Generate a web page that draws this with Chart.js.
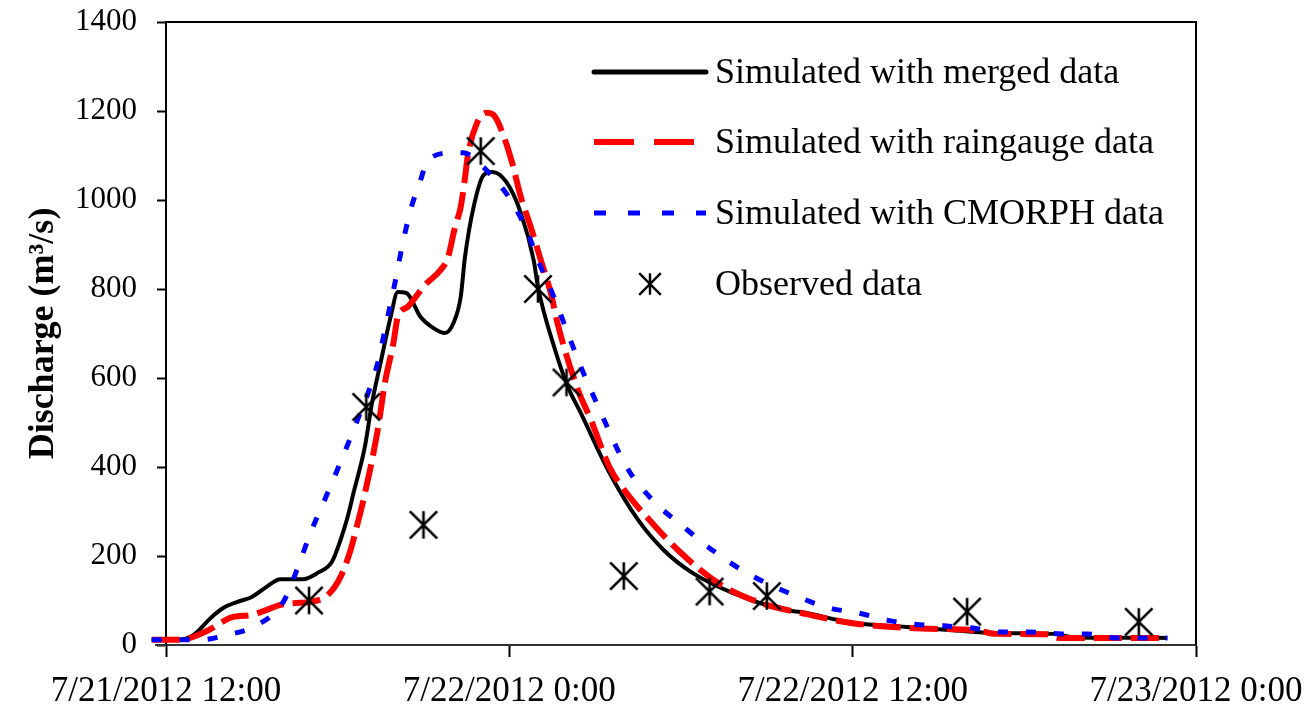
<!DOCTYPE html>
<html>
<head>
<meta charset="utf-8">
<script src="https://cdn.jsdelivr.net/npm/chart.js@4"></script>
<style>
  html, body { margin: 0; padding: 0; background: #fff; }
  #wrap { width: 1304px; height: 715px; position: relative; }
</style>
</head>
<body>
<div id="wrap"><canvas id="dischargeChart"></canvas></div>
<script>
// hours after 7/21/2012 12:00
const xTicks = [0, 12, 24, 36];
const xTickLabels = ['7/21/2012 12:00', '7/22/2012 0:00', '7/22/2012 12:00', '7/23/2012 0:00'];

const mergedT = [-0.5, 0.5, 0.95, 1.6, 2.0, 2.5, 3.0, 3.5, 4.0, 4.8, 5.3, 5.8, 6.1, 6.35, 6.55, 6.95, 7.2, 7.5, 7.85, 8.1, 8.4, 8.9, 9.35, 9.75, 10.05, 10.3, 10.45, 10.75, 11.1, 11.4, 11.9, 12.4, 12.85, 13.0, 13.6, 14.05, 14.5, 15.5, 16.5, 17.4, 18.4, 19.8, 21.6, 22.2, 24, 26, 27.5, 29, 31, 31.8, 35];
const mergedQ = [12, 12, 22, 63, 83, 97, 108, 130, 148, 148, 162, 187, 236, 288, 341, 445, 544, 634, 737, 793, 791, 737, 712, 701, 724, 782, 872, 984, 1056, 1063, 1040, 971, 865, 805, 663, 580, 521, 387, 281, 213, 162, 117, 79, 74, 50, 40, 33, 27, 25, 17, 16];

const rainT = [-0.5, 0.5, 1.35, 2.35, 2.95, 3.4, 4.0, 4.45, 5.05, 5.65, 6.1, 6.45, 6.7, 6.9, 7.4, 7.65, 7.95, 8.1, 8.45, 9.05, 9.6, 9.85, 10.1, 10.3, 10.45, 10.55, 10.85, 11.2, 11.45, 11.85, 12.1, 12.4, 12.75, 13.1, 13.45, 13.7, 14.4, 14.85, 15.5, 16.2, 16.8, 17.9, 19.3, 20.8, 22.2, 24, 26, 28.4, 29, 30.8, 31.2, 35];
const rainQ = [12, 12, 29, 63, 67, 76, 90, 94, 97, 112, 153, 213, 274, 326, 483, 589, 679, 737, 760, 809, 843, 870, 939, 984, 1050, 1100, 1170, 1196, 1191, 1135, 1083, 1007, 939, 865, 791, 719, 573, 506, 400, 333, 288, 213, 139, 94, 72, 49, 38, 32, 25, 24, 16, 16];

const cmorphT = [-0.5, 1.2, 2.1, 3.2, 4.1, 4.6, 5.05, 5.5, 6.55, 7.4, 7.65, 8.0, 8.25, 8.55, 8.9, 9.15, 10.05, 10.4, 11.1, 11.2, 12.05, 12.65, 13.0, 13.5, 14.0, 14.5, 15.05, 16.1, 17.0, 18.1, 19.1, 20.3, 22.1, 23.2, 24.2, 25.2, 26.1, 27.2, 28.2, 29.2, 30.2, 31.3, 32.2, 33.2, 35];
const cmorphQ = [12, 12, 22, 45, 97, 173, 252, 319, 483, 634, 708, 813, 895, 978, 1045, 1090, 1106, 1106, 1074, 1067, 1000, 925, 865, 791, 708, 625, 544, 400, 326, 265, 213, 162, 108, 83, 72, 56, 47, 43, 38, 29, 29, 25, 25, 16, 16];

const observedT = [5, 7, 9, 11, 13, 14, 16, 19, 21, 28, 34];
const observedQ = [100, 535, 270, 1110, 800, 590, 155, 120, 110, 75, 52];

const serif = "'Liberation Serif', 'Times New Roman', serif";

function toPoints(ts, qs) {
    return ts.map((t, i) => ({ x: t, y: qs[i] }));
}

// six-armed asterisk like the Excel marker
function makeStar(size, lw) {
    const c = document.createElement('canvas');
    c.width = size;
    c.height = size;
    const g = c.getContext('2d');
    g.strokeStyle = '#000';
    g.lineWidth = lw;
    const m = lw / 2 + 1;
    g.beginPath();
    g.moveTo(size / 2, m);
    g.lineTo(size / 2, size - m);
    g.moveTo(m, m);
    g.lineTo(size - m, size - m);
    g.moveTo(size - m, m);
    g.lineTo(m, size - m);
    g.stroke();
    return c;
}

const starMarker = makeStar(32, 2.6);
const starLegend = makeStar(26, 2.4);

const frameAndLegend = {
    id: 'frameAndLegend',
    afterDraw(chart) {
        const { ctx, chartArea } = chart;
        ctx.save();
        // top and right frame
        ctx.strokeStyle = '#000';
        ctx.lineWidth = 2;
        ctx.beginPath();
        ctx.moveTo(chartArea.left, chartArea.top);
        ctx.lineTo(chartArea.right, chartArea.top);
        ctx.lineTo(chartArea.right, chartArea.bottom);
        ctx.stroke();
        // x axis runs a little past the y axis
        ctx.strokeStyle = '#333';
        ctx.beginPath();
        ctx.moveTo(chartArea.left - 11, chartArea.bottom);
        ctx.lineTo(chartArea.left, chartArea.bottom);
        ctx.stroke();

        // legend inside the plot
        const rows = [72, 142, 213, 284];
        const x0 = 594, x1 = 706, tx = 715;
        ctx.font = '36px ' + serif;
        ctx.textBaseline = 'middle';
        ctx.textAlign = 'left';
        [0, 1, 2, 3].forEach((di, r) => {
            const ds = chart.data.datasets[di];
            const y = rows[r];
            if (ds.showLine === false) {
                ctx.drawImage(starLegend, 650 - starLegend.width / 2, y - starLegend.height / 2);
            } else {
                ctx.strokeStyle = ds.borderColor;
                ctx.lineWidth = di === 0 ? 5 : ds.borderWidth;
                ctx.lineCap = di === 0 ? 'round' : 'butt';
                ctx.setLineDash(ds.legendDash || []);
                ctx.beginPath();
                ctx.moveTo(x0, y);
                ctx.lineTo(x1, y);
                ctx.stroke();
                ctx.setLineDash([]);
            }
            ctx.fillStyle = '#000';
            ctx.fillText(ds.label, tx, y + 2);
        });
        ctx.restore();
    }
};

const ctx = document.getElementById('dischargeChart').getContext('2d');
new Chart(ctx, {
    type: 'line',
    data: {
        datasets: [
            {
                label: 'Simulated with merged data',
                data: toPoints(mergedT, mergedQ),
                borderColor: '#000000',
                borderWidth: 4,
                pointRadius: 0,
                cubicInterpolationMode: 'monotone',
                clip: false,
                order: 3
            },
            {
                label: 'Simulated with raingauge data',
                data: toPoints(rainT, rainQ),
                borderColor: '#ff0000',
                borderWidth: 6,
                borderDash: [28, 9],
                legendDash: [40, 20],
                pointRadius: 0,
                cubicInterpolationMode: 'monotone',
                clip: false,
                order: 2
            },
            {
                label: 'Simulated with CMORPH data',
                data: toPoints(cmorphT, cmorphQ),
                borderColor: '#0000ff',
                borderWidth: 5,
                borderDash: [10, 18],
                legendDash: [12, 22],
                pointRadius: 0,
                cubicInterpolationMode: 'monotone',
                clip: false,
                order: 1
            },
            {
                label: 'Observed data',
                data: toPoints(observedT, observedQ),
                showLine: false,
                pointStyle: starMarker,
                pointRadius: 16,
                clip: false,
                order: 0
            }
        ]
    },
    options: {
        responsive: true,
        maintainAspectRatio: false,
        animation: false,
        layout: { padding: { top: 22, right: 108, left: 0, bottom: 0 } },
        plugins: {
            legend: { display: false },
            tooltip: { enabled: false }
        },
        scales: {
            x: {
                type: 'linear',
                min: 0,
                max: 36,
                afterFit: (scale) => {
                    scale.height = 70;
                    scale.paddingLeft = 0;
                    scale.paddingRight = 0;
                },
                afterBuildTicks: (scale) => {
                    scale.ticks = xTicks.map(v => ({ value: v }));
                },
                ticks: {
                    autoSkip: false,
                    maxRotation: 0,
                    padding: 14,
                    color: '#000',
                    font: { family: serif, size: 35 },
                    callback: (value) => xTickLabels[xTicks.indexOf(value)]
                },
                grid: {
                    drawOnChartArea: false,
                    tickLength: 12,
                    tickWidth: 2,
                    tickColor: '#000'
                },
                border: { display: true, color: '#333', width: 2 }
            },
            y: {
                min: 0,
                max: 1400,
                afterFit: (scale) => {
                    scale.width = 166;
                    scale.paddingTop = 0;
                    scale.paddingBottom = 0;
                },
                ticks: {
                    stepSize: 200,
                    padding: 20,
                    color: '#000',
                    font: { family: serif, size: 31 },
                    callback: (value) => String(value)
                },
                grid: {
                    drawOnChartArea: false,
                    tickLength: 9,
                    tickWidth: 2,
                    tickColor: '#000'
                },
                border: { display: true, color: '#000', width: 2 },
                title: {
                    display: true,
                    text: 'Discharge (m³/s)',
                    color: '#000',
                    font: { family: serif, size: 36, weight: 'bold' },
                    padding: { top: 22, bottom: 0 }
                }
            }
        }
    },
    plugins: [frameAndLegend]
});
</script>
</body>
</html>
